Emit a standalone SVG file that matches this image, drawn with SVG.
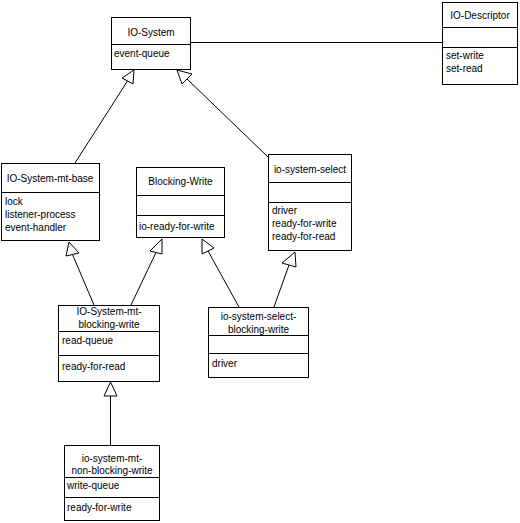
<svg xmlns="http://www.w3.org/2000/svg" width="520" height="523" viewBox="0 0 520 523">
<style>
.box{fill:#fff;stroke:#000;stroke-width:1}
.ln{stroke:#000;stroke-width:1;fill:none}
.tri{fill:#fff;stroke:#000;stroke-width:1}
text{font-family:"Liberation Sans",Arial,sans-serif;font-size:10px;fill:#000}
.c{text-anchor:middle}
</style>
<rect width="520" height="523" fill="#fff"/>
<g id="connectors">
<line class="ln" x1="191" y1="42.5" x2="442" y2="42.5"/>
<line class="ln" x1="127.5" y1="81" x2="75" y2="163"/>
<polygon class="tri" points="134,70 122,78 133,84"/>
<line class="ln" x1="187" y1="79" x2="268" y2="157"/>
<polygon class="tri" points="177,70 192,74 182,84"/>
<line class="ln" x1="72.5" y1="254.5" x2="94" y2="305"/>
<polygon class="tri" points="69,242 66,256 79,253"/>
<line class="ln" x1="156" y1="252.5" x2="131" y2="305"/>
<polygon class="tri" points="162,239 150,251 162,254"/>
<line class="ln" x1="208" y1="251" x2="239" y2="307"/>
<polygon class="tri" points="202,239 202,254 214,248"/>
<line class="ln" x1="289" y1="265" x2="274" y2="307"/>
<polygon class="tri" points="295,252 282,263 296,267"/>
<line class="ln" x1="110.5" y1="396" x2="110.5" y2="445"/>
<polygon class="tri" points="110.5,382 104,396 117,396"/>
</g>
<g id="io-system">
<rect class="box" x="111.5" y="17.5" width="79" height="52"/>
<line class="ln" x1="111.5" y1="44.5" x2="190.5" y2="44.5"/>
<text class="c" x="151" y="36">IO-System</text>
<text x="114" y="57">event-queue</text>
</g>
<g id="io-descriptor">
<rect class="box" x="442.5" y="2.5" width="75" height="82"/>
<line class="ln" x1="442.5" y1="27.5" x2="517.5" y2="27.5"/>
<line class="ln" x1="442.5" y1="47.5" x2="517.5" y2="47.5"/>
<text class="c" x="480" y="19">IO-Descriptor</text>
<text x="446" y="59">set-write</text>
<text x="446" y="72">set-read</text>
</g>
<g id="io-system-mt-base">
<rect class="box" x="1.5" y="163.5" width="98" height="77"/>
<line class="ln" x1="1.5" y1="192.5" x2="99.5" y2="192.5"/>
<text class="c" x="50" y="182">IO-System-mt-base</text>
<text x="5" y="205">lock</text>
<text x="5" y="218">listener-process</text>
<text x="5" y="231">event-handler</text>
</g>
<g id="blocking-write">
<rect class="box" x="136.5" y="167.5" width="88" height="70"/>
<line class="ln" x1="136.5" y1="195.5" x2="224.5" y2="195.5"/>
<line class="ln" x1="136.5" y1="215.5" x2="224.5" y2="215.5"/>
<text class="c" x="180.5" y="185">Blocking-Write</text>
<text x="139" y="230">io-ready-for-write</text>
</g>
<g id="io-system-select">
<rect class="box" x="268.5" y="154.5" width="83" height="96"/>
<line class="ln" x1="268.5" y1="182.5" x2="351.5" y2="182.5"/>
<line class="ln" x1="268.5" y1="202.5" x2="351.5" y2="202.5"/>
<text class="c" x="310" y="173">io-system-select</text>
<text x="272" y="214">driver</text>
<text x="272" y="227">ready-for-write</text>
<text x="272" y="240">ready-for-read</text>
</g>
<g id="io-system-mt-blocking-write">
<rect class="box" x="58.5" y="305.5" width="101" height="76"/>
<line class="ln" x1="58.5" y1="331.5" x2="159.5" y2="331.5"/>
<line class="ln" x1="58.5" y1="355.5" x2="159.5" y2="355.5"/>
<text class="c" x="109" y="315">IO-System-mt-</text>
<text class="c" x="109" y="328">blocking-write</text>
<text x="62" y="344">read-queue</text>
<text x="62" y="370">ready-for-read</text>
</g>
<g id="io-system-select-blocking-write">
<rect class="box" x="208.5" y="307.5" width="100" height="70"/>
<line class="ln" x1="208.5" y1="335.5" x2="308.5" y2="335.5"/>
<line class="ln" x1="208.5" y1="353.5" x2="308.5" y2="353.5"/>
<text class="c" x="258.5" y="320">io-system-select-</text>
<text class="c" x="258.5" y="333">blocking-write</text>
<text x="212" y="367">driver</text>
</g>
<g id="io-system-mt-non-blocking-write">
<rect class="box" x="64.5" y="445.5" width="95" height="75"/>
<line class="ln" x1="64.5" y1="477.5" x2="159.5" y2="477.5"/>
<line class="ln" x1="64.5" y1="497.5" x2="159.5" y2="497.5"/>
<text class="c" x="112" y="462">io-system-mt-</text>
<text class="c" x="112" y="474">non-blocking-write</text>
<text x="67" y="489">write-queue</text>
<text x="67" y="511">ready-for-write</text>
</g>
</svg>
